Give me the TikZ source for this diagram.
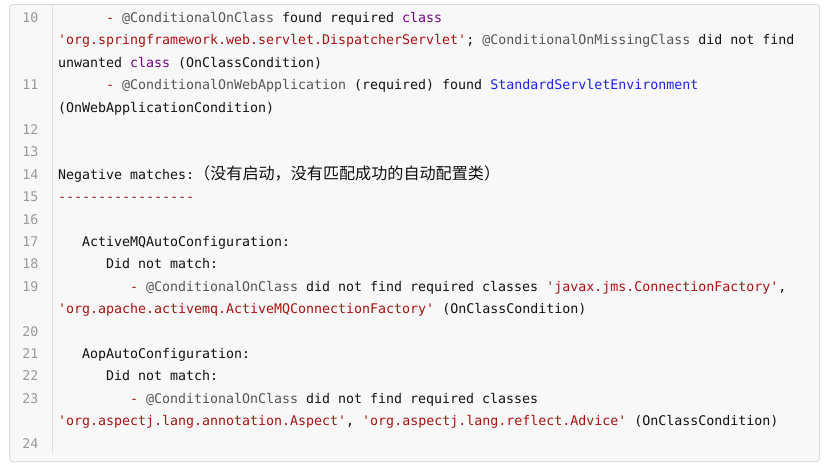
\documentclass[tikz,border=0pt]{standalone}
\usepackage{fontspec}
\newfontfamily\codefont{DejaVu Sans Mono}
\newfontfamily\cjk{Noto Sans CJK SC}
\definecolor{boxbg}{HTML}{F8F8F8}
\definecolor{boxline}{HTML}{DDDDDD}
\definecolor{ctext}{HTML}{111111}
\definecolor{cnum}{HTML}{999999}
\definecolor{cmeta}{HTML}{555555}
\definecolor{ckey}{HTML}{770088}
\definecolor{cstr}{HTML}{AA1111}
\definecolor{cdef}{HTML}{2020F0}
\newcommand\mt[1]{{\color{cmeta}#1}}
\newcommand\kw[1]{{\color{ckey}#1}}
\newcommand\st[1]{{\color{cstr}#1}}
\newcommand\df[1]{{\color{cdef}#1}}
\tikzset{
  codeline/.style={anchor=base west, inner sep=0pt, text=ctext,
    font=\codefont\fontsize{13.29}{16}\selectfont},
  lnum/.style={anchor=base east, inner sep=0pt, text=cnum,
    font=\codefont\fontsize{13.29}{16}\selectfont},
  codebox/.style={draw=boxline, fill=boxbg, line width=1pt, rounded corners=3pt},
  gutterline/.style={draw=boxline, line width=1.4pt}
}
\begin{document}
\begin{tikzpicture}[x=1pt,y=-1pt]
\useasboundingbox (0,0) rectangle (830,467);
\fill[white] (0,0) rectangle (830,467);
\path[codebox] (9.5,4.5) rectangle (819.5,461.5);
\coordinate (gtop) at (52.5,5);
\coordinate (gbot) at (52.5,453);
\draw[gutterline] (gtop) -- (gbot);

% line numbers
\node[lnum] (n10) at (38.5,{22.5+22.4*0}) {10};
\node[lnum] (n11) at (38.5,{22.5+22.4*3}) {11};
\node[lnum] (n12) at (38.5,{22.5+22.4*5}) {12};
\node[lnum] (n13) at (38.5,{22.5+22.4*6}) {13};
\node[lnum] (n14) at (38.5,{22.5+22.4*7}) {14};
\node[lnum] (n15) at (38.5,{22.5+22.4*8}) {15};
\node[lnum] (n16) at (38.5,{22.5+22.4*9}) {16};
\node[lnum] (n17) at (38.5,{22.5+22.4*10}) {17};
\node[lnum] (n18) at (38.5,{22.5+22.4*11}) {18};
\node[lnum] (n19) at (38.5,{22.5+22.4*12}) {19};
\node[lnum] (n20) at (38.5,{22.5+22.4*14}) {20};
\node[lnum] (n21) at (38.5,{22.5+22.4*15}) {21};
\node[lnum] (n22) at (38.5,{22.5+22.4*16}) {22};
\node[lnum] (n23) at (38.5,{22.5+22.4*17}) {23};
\node[lnum] (n24) at (38.5,{22.5+22.4*19}) {24};

% code lines
\node[codeline] (c10a) at ({58+8*6},{22.5+22.4*0}) {\st{-} \mt{@ConditionalOnClass} found required \kw{class}};
\node[codeline] (c10b) at (58,{22.5+22.4*1}) {\st{'org.springframework.web.servlet.DispatcherServlet'}; \mt{@ConditionalOnMissingClass} did not find};
\node[codeline] (c10c) at (58,{22.5+22.4*2}) {unwanted \kw{class} (OnClassCondition)};
\node[codeline] (c11a) at ({58+8*6},{22.5+22.4*3}) {\st{-} \mt{@ConditionalOnWebApplication} (required) found \df{StandardServletEnvironment}};
\node[codeline] (c11b) at (58,{22.5+22.4*4}) {(OnWebApplicationCondition)};
\node[codeline] (c14) at (58,{22.5+22.4*7}) {Negative matches:{\cjk\fontsize{16.1}{18}\selectfont （没有启动，没有匹配成功的自动配置类）}};
\node[codeline] (c15) at (58,{22.5+22.4*8}) {\st{-----------------}};
\node[codeline] (c17) at ({58+8*3},{22.5+22.4*10}) {ActiveMQAutoConfiguration:};
\node[codeline] (c18) at ({58+8*6},{22.5+22.4*11}) {Did not match:};
\node[codeline] (c19a) at ({58+8*9},{22.5+22.4*12}) {\st{-} \mt{@ConditionalOnClass} did not find required classes \st{'javax.jms.ConnectionFactory'},};
\node[codeline] (c19b) at (58,{22.5+22.4*13}) {\st{'org.apache.activemq.ActiveMQConnectionFactory'} (OnClassCondition)};
\node[codeline] (c21) at ({58+8*3},{22.5+22.4*15}) {AopAutoConfiguration:};
\node[codeline] (c22) at ({58+8*6},{22.5+22.4*16}) {Did not match:};
\node[codeline] (c23a) at ({58+8*9},{22.5+22.4*17}) {\st{-} \mt{@ConditionalOnClass} did not find required classes};
\node[codeline] (c23b) at (58,{22.5+22.4*18}) {\st{'org.aspectj.lang.annotation.Aspect'}, \st{'org.aspectj.lang.reflect.Advice'} (OnClassCondition)};
\end{tikzpicture}
\end{document}
